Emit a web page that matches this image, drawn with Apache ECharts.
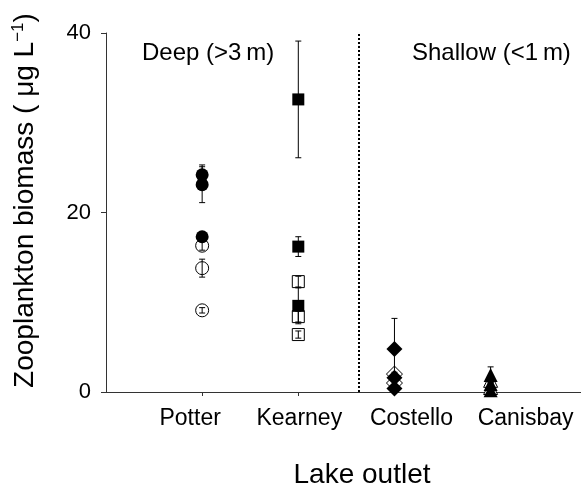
<!DOCTYPE html>
<html>
<head>
<meta charset="utf-8">
<script src="https://cdn.jsdelivr.net/npm/echarts@6/dist/echarts.min.js"></script>
<style>
html,body{margin:0;padding:0;background:#fff;}
#chart{width:581px;height:485px;}
</style>
</head>
<body>
<div id="chart"></div>
<script>
// Categories (x positions 1..4)
const categories = ['Potter', 'Kearney', 'Costello', 'Canisbay'];
const yTicks = [0, 20, 40];

// Filled-symbol samples (value, error) per outlet
const potterFilled = [24.2, 23.1, 17.3];
const potterFilledErr = [1.1, 2.0, 0.4];
const potterOpen = [16.3, 13.8, 9.1];
const potterOpenErr = [0.5, 1.0, 0.3];

const kearneyFilled = [32.6, 16.2, 9.6];
const kearneyFilledErr = [6.5, 1.1, 2.0];
const kearneyOpen = [12.3, 8.4, 6.4];
const kearneyOpenErr = [0.6, 0.6, 0.4];

const costelloFilled = [4.8, 1.6, 0.4];
const costelloFilledErr = [3.4, 0.3, 0.2];
const costelloOpen = [2.0, 1.0];
const costelloOpenErr = [0.2, 0.2];

const canisbayFilled = [1.9, 0.9, 0.2];
const canisbayFilledErr = [0.9, 0.2, 0.1];
const canisbayOpen = [1.3, 0.5];
const canisbayOpenErr = [0.2, 0.1];

const depthDivider = 2.625;
const annotations = ['Deep (>3\u2009m)', 'Shallow (<1\u2009m)'];

const FONT = '"Liberation Sans", Arial, Helvetica, sans-serif';

function pts(x, vals) { return vals.map(v => [x, v]); }
function errs(x, vals, e) { return vals.map((v, i) => [x, v - e[i], v + e[i]]); }

const groups = [
  { x: 1, symbol: 'circle', size: 13, filled: potterFilled, fErr: potterFilledErr, open: potterOpen, oErr: potterOpenErr },
  { x: 2, symbol: 'rect', size: 12, filled: kearneyFilled, fErr: kearneyFilledErr, open: kearneyOpen, oErr: kearneyOpenErr },
  { x: 3, symbol: 'diamond', size: 16, filled: costelloFilled, fErr: costelloFilledErr, open: costelloOpen, oErr: costelloOpenErr },
  { x: 4, symbol: 'triangle', size: 14, filled: canisbayFilled, fErr: canisbayFilledErr, open: canisbayOpen, oErr: canisbayOpenErr }
];

function errorRender(params, api) {
  const x = api.value(0);
  const lo = api.coord([x, api.value(1)]);
  const hi = api.coord([x, api.value(2)]);
  const w = 3;
  const style = { stroke: '#000', lineWidth: 1 };
  return {
    type: 'group',
    children: [
      { type: 'line', shape: { x1: lo[0], y1: lo[1], x2: hi[0], y2: hi[1] }, style: style },
      { type: 'line', shape: { x1: hi[0] - w, y1: hi[1], x2: hi[0] + w, y2: hi[1] }, style: style },
      { type: 'line', shape: { x1: lo[0] - w, y1: lo[1], x2: lo[0] + w, y2: lo[1] }, style: style }
    ]
  };
}

const series = [];
groups.forEach(g => {
  series.push({
    type: 'scatter', symbol: g.symbol, symbolSize: g.size, z: 2,
    itemStyle: { color: '#fff', borderColor: '#000', borderWidth: 1, opacity: 1 },
    data: pts(g.x, g.open), silent: true
  });
  series.push({
    type: 'custom', renderItem: errorRender, z: 3, silent: true,
    data: errs(g.x, g.open, g.oErr)
  });
});
groups.forEach(g => {
  series.push({
    type: 'scatter', symbol: g.symbol, symbolSize: g.size, z: 4,
    itemStyle: { color: '#000', borderColor: '#000', borderWidth: 0, opacity: 1 },
    data: pts(g.x, g.filled), silent: true
  });
  series.push({
    type: 'custom', renderItem: errorRender, z: 5, silent: true,
    data: errs(g.x, g.filled, g.fErr)
  });
});
// divider line
series.push({
  type: 'scatter', data: [], silent: true,
  markLine: {
    silent: true, symbol: 'none', label: { show: false },
    lineStyle: { type: [2, 2], width: 2, color: '#000' },
    data: [{ xAxis: depthDivider }]
  }
});

const labelShift = [-12, 1, 17, 35];
const rich = {};
categories.forEach((c, i) => {
  const s = labelShift[i];
  rich['c' + i] = {
    fontSize: 23, fontFamily: FONT, color: '#000',
    padding: s >= 0 ? [0, 0, 0, 2 * s] : [0, -2 * s, 0, 0]
  };
});

const chart = echarts.init(document.getElementById('chart'), null, { renderer: 'canvas' });
chart.setOption({
  animation: false,
  backgroundColor: '#fff',
  grid: { left: 106, right: 0, top: 33, bottom: 93, containLabel: false, outerBoundsMode: 'none' },
  xAxis: {
    type: 'value', min: 0, max: 4.94,
    name: 'Lake outlet', nameLocation: 'middle', nameGap: 69,
    nameTextStyle: { fontSize: 28, fontFamily: FONT, color: '#000', padding: [0, 0, 0, 37] },
    axisLine: { show: true, lineStyle: { color: '#333', width: 1 } },
    axisTick: { show: true, customValues: [1, 2, 3, 4], length: 4, inside: false, lineStyle: { color: '#333' } },
    axisLabel: {
      customValues: [1, 2, 3, 4], margin: 15,
      formatter: v => { const i = Math.round(v) - 1; return '{c' + i + '|' + categories[i] + '}'; },
      rich: rich
    },
    splitLine: { show: false }
  },
  yAxis: {
    type: 'value', min: yTicks[0], max: yTicks[yTicks.length - 1], interval: 20,
    name: '{a|Zooplankton biomass ( \u03bcg L}{s|\u22121}{a|)}',
    nameLocation: 'middle', nameGap: 66, nameRotate: 90,
    nameTextStyle: {
      padding: [0, 0, 0, 24],
      rich: {
        a: { fontSize: 28, fontFamily: FONT, color: '#000', lineHeight: 30 },
        s: { fontSize: 17, fontFamily: FONT, color: '#000', verticalAlign: 'top', lineHeight: 30 }
      }
    },
    axisLine: { show: true, lineStyle: { color: '#333', width: 1 } },
    axisTick: { show: true, length: 5, inside: false, lineStyle: { color: '#333' } },
    axisLabel: { fontSize: 22, fontFamily: FONT, color: '#000', margin: 15 },
    splitLine: { show: false }
  },
  graphic: [
    { type: 'text', left: 142, top: 41, style: { text: annotations[0], font: '24px ' + FONT, fill: '#000' } },
    { type: 'text', left: 412, top: 41, style: { text: annotations[1], font: '24px ' + FONT, fill: '#000' } }
  ],
  series: series
});
</script>
</body>
</html>
